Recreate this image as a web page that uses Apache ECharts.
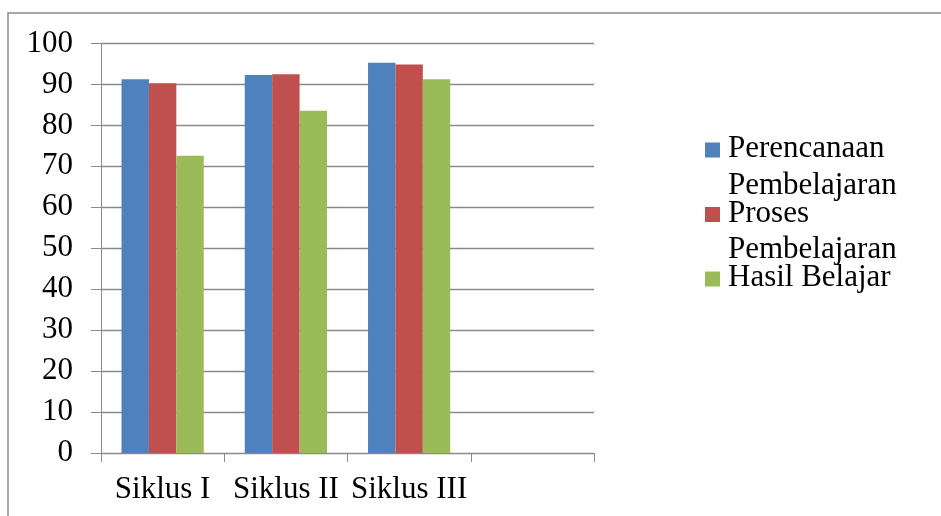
<!DOCTYPE html>
<html>
<head>
<meta charset="utf-8">
<script src="https://cdn.jsdelivr.net/npm/echarts@6/dist/echarts.min.js"></script>
<style>
html,body{margin:0;padding:0;background:#fff;}
#chart{width:941px;height:516px;}
</style>
</head>
<body>
<div id="chart"></div>
<script>
const categories = ['Siklus I', 'Siklus II', 'Siklus III', ''];
const perencanaan = [91.3, 92.3, 95.3, null];
const proses = [90.3, 92.5, 94.9, null];
const hasil = [72.6, 83.6, 91.3, null];
const seriesNames = ['Perencanaan Pembelajaran', 'Proses Pembelajaran', 'Hasil Belajar'];
const yTicks = [0, 10, 20, 30, 40, 50, 60, 70, 80, 90, 100];

const FONT = "'Liberation Serif', 'Times New Roman', Times, serif";
const GRAY = '#8a8a8a';
const iconPath = 'path://M0,0L0.01,0L0.01,0.01Z M0,11.5L15,11.5L15,26.5L0,26.5Z M18,73L17.99,73L17.99,72.99Z';

const chart = echarts.init(document.getElementById('chart'), null, {renderer: 'canvas'});
chart.setOption({
  animation: false,
  backgroundColor: '#fff',
  color: ['#4F81BD', '#C0504D', '#9BBB59'],
  graphic: [{
    type: 'rect',
    shape: {x: 8, y: 13, width: 1000, height: 700},
    style: {fill: 'none', stroke: GRAY, lineWidth: 1.5},
    silent: true,
    z: -1
  }],
  grid: {left: 101, right: 347, top: 43.5, bottom: 63, containLabel: false},
  legend: {
    orient: 'vertical',
    left: 700,
    top: 126,
    itemWidth: 18,
    itemHeight: 73,
    itemGap: -8.5,
    icon: iconPath,
    selectedMode: false,
    data: seriesNames,
    formatter: function (name) {
      if (name === 'Hasil Belajar') return name + '\n ';
      return name.replace(' ', '\n');
    },
    textStyle: {fontFamily: FONT, fontSize: 31, color: '#000', lineHeight: 36.5}
  },
  xAxis: {
    type: 'category',
    data: categories,
    axisLine: {lineStyle: {color: GRAY, width: 1}},
    axisTick: {show: true, alignWithLabel: false, length: 9, lineStyle: {color: GRAY}},
    axisLabel: {fontFamily: FONT, fontSize: 31, color: '#000', margin: 21, interval: 0}
  },
  yAxis: {
    type: 'value',
    min: yTicks[0],
    max: yTicks[yTicks.length - 1],
    interval: 10,
    axisLine: {show: true, lineStyle: {color: GRAY, width: 1}},
    axisTick: {show: true, length: 10, lineStyle: {color: GRAY}},
    splitLine: {show: true, lineStyle: {color: GRAY, width: 1.3}},
    axisLabel: {fontFamily: FONT, fontSize: 31, color: '#000', margin: 28}
  },
  series: [
    {name: seriesNames[0], type: 'bar', data: perencanaan, barGap: '0%', barCategoryGap: '33.3%'},
    {name: seriesNames[1], type: 'bar', data: proses, barGap: '0%', barCategoryGap: '33.3%'},
    {name: seriesNames[2], type: 'bar', data: hasil, barGap: '0%', barCategoryGap: '33.3%'}
  ]
});
</script>
</body>
</html>
